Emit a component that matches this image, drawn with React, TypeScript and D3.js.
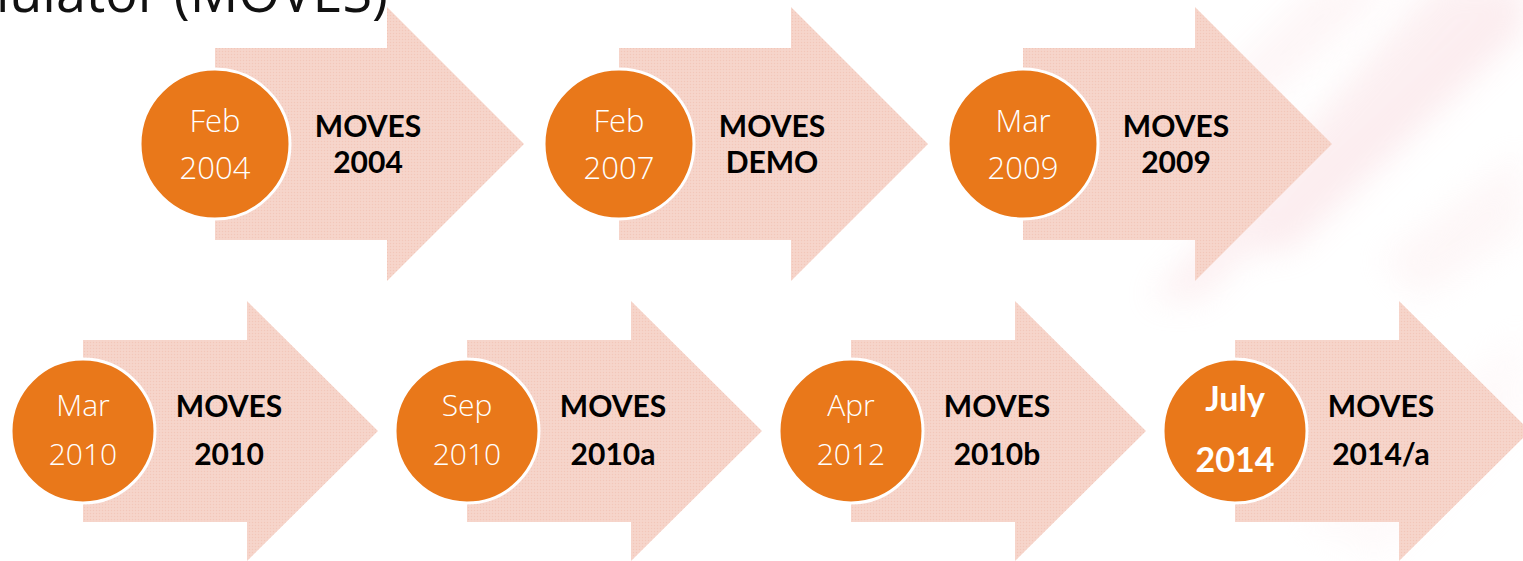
import React from "react";
import * as d3 from "d3";

const W = 1523;
const H = 561;

// Data
const months = ["Feb", "Feb", "Mar", "Mar", "Sep", "Apr", "July"];
const years = ["2004", "2007", "2009", "2010", "2010", "2012", "2014"];
const releaseLine1 = ["MOVES", "MOVES", "MOVES", "MOVES", "MOVES", "MOVES", "MOVES"];
const releaseLine2 = ["2004", "DEMO", "2009", "2010", "2010a", "2010b", "2014/a"];
const rowOf = [0, 0, 0, 1, 1, 1, 1];
const slotOf = [0, 1, 2, 0, 1, 2, 3];
const highlighted = [false, false, false, false, false, false, true];
const titleText = "Motor Vehicle Emission Simulator (MOVES)";

const rows = [
  { cy: 144, r: 75, bodyHalf: 96, bodyRight: 172, headHalf: 137, tip: 309, x: d3.scaleLinear().domain([0, 1]).range([215, 619]),
    c1: -12, c2: 35, l1: -7, l2: 29, cFont: 31 },
  { cy: 431, r: 72, bodyHalf: 91, bodyRight: 164, headHalf: 130, tip: 295, x: d3.scaleLinear().domain([0, 1]).range([83, 467]),
    c1: -15, c2: 34, l1: -14, l2: 34, cFont: 30 },
];

const ORANGE = "#e9781a";
const PINK = "#f6d3c8";

function arrowPath(cx: number, cy: number, g: typeof rows[0]) {
  const p = d3.path();
  p.moveTo(cx, cy - g.bodyHalf);
  p.lineTo(cx + g.bodyRight, cy - g.bodyHalf);
  p.lineTo(cx + g.bodyRight, cy - g.headHalf);
  p.lineTo(cx + g.tip, cy);
  p.lineTo(cx + g.bodyRight, cy + g.headHalf);
  p.lineTo(cx + g.bodyRight, cy + g.bodyHalf);
  p.lineTo(cx, cy + g.bodyHalf);
  p.closePath();
  return p.toString();
}

export default function App() {
  const items = months.map((m, i) => {
    const g = rows[rowOf[i]];
    const cx = g.x(slotOf[i]);
    return { i, g, cx, cy: g.cy };
  });
  const labelOffset = [153, 146];
  return (
    <svg width={W} height={H} style={{ position: "absolute", left: 0, top: 0, background: "#fff" }}>
      <defs>
        <filter id="blur" x="-50%" y="-50%" width="200%" height="200%">
          <feGaussianBlur stdDeviation="16" />
        </filter>
        <pattern id="tex" width="3" height="3" patternUnits="userSpaceOnUse">
          <rect width="3" height="3" fill={PINK} />
          <rect width="1" height="1" fill="#f2c7ba" />
          <rect x="1.5" y="1.5" width="1" height="1" fill="#f9ddd4" />
        </pattern>
      </defs>
      {/* background streaks */}
      <g filter="url(#blur)" opacity={0.32}>
        <polygon points="1150,300 1200,300 1523,-20 1440,-20" fill="#f7d0d6" />
        <polygon points="1240,250 1290,250 1523,30 1523,-20" fill="#f5c4cc" />
        <polygon points="1320,-20 1400,-20 1160,200 1100,200" fill="#fbe3e6" />
        <polygon points="1380,260 1523,150 1523,230 1420,300" fill="#fbe6e8" />
        <polygon points="1300,520 1523,330 1523,420 1380,560" fill="#fdf0f1" />
      </g>
      {/* title (partially cut off at the top-left, as in the slide) */}
      <text x={388} y={12} textAnchor="end" fontFamily="'Open Sans', sans-serif" fontWeight={400}
        fontSize={54} fill="#111">{titleText}</text>
      {items.map(({ i, g, cx, cy }) => (
        <g key={i}>
          <path d={arrowPath(cx, cy, g)} fill="url(#tex)" />
          <circle cx={cx} cy={cy} r={g.r} fill={ORANGE} stroke="#fff" strokeWidth={3} />
          <text x={cx} y={cy + (highlighted[i] ? -20 : g.c1)} textAnchor="middle" fill="#fff"
            fontFamily={highlighted[i] ? "Lato, sans-serif" : "'Open Sans', sans-serif"}
            fontWeight={highlighted[i] ? 700 : 300} fontSize={highlighted[i] ? 34 : g.cFont}>{months[i]}</text>
          <text x={cx} y={cy + (highlighted[i] ? 41 : g.c2)} textAnchor="middle" fill="#fff"
            fontFamily={highlighted[i] ? "Lato, sans-serif" : "'Open Sans', sans-serif"}
            fontWeight={highlighted[i] ? 700 : 300} fontSize={highlighted[i] ? 34 : g.cFont}>{years[i]}</text>
          <text x={cx + labelOffset[rowOf[i]]} y={cy + g.l1} textAnchor="middle" fill="#000"
            fontFamily="Lato, sans-serif" fontWeight={700} fontSize={30}>{releaseLine1[i]}</text>
          <text x={cx + labelOffset[rowOf[i]]} y={cy + g.l2} textAnchor="middle" fill="#000"
            fontFamily="Lato, sans-serif" fontWeight={700} fontSize={30}>{releaseLine2[i]}</text>
        </g>
      ))}
    </svg>
  );
}
